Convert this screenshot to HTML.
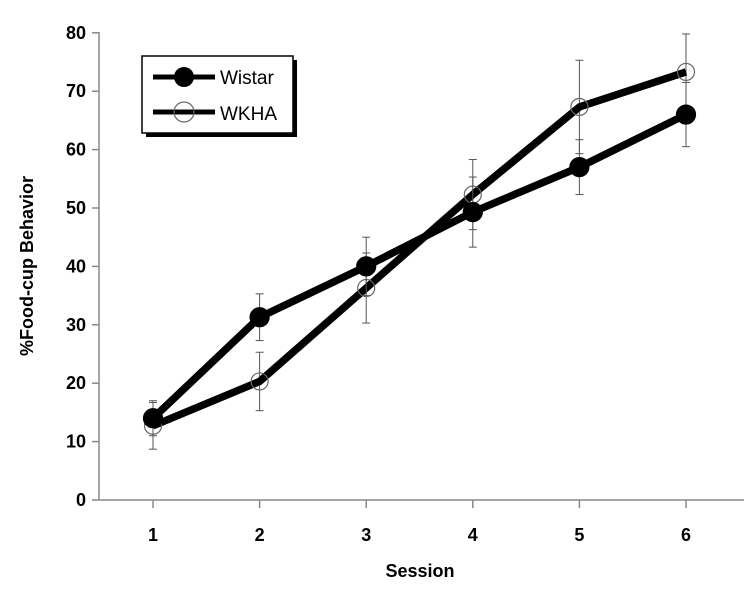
<!DOCTYPE html>
<html><head><meta charset="utf-8"><style>
body{margin:0;background:#fff;}
svg{display:block;font-family:"Liberation Sans",Arial,sans-serif;}
</style></head><body>
<svg id="chart" width="752" height="590" viewBox="0 0 752 590"></svg>
<script>
const sessions=[1,2,3,4,5,6];
const wistar=[14,31.3,40,49.3,57,66];
const wistarErr=[3,4,5,6,4.7,5.5];
const wkha=[12.7,20.3,36.3,52.3,67.3,73.3];
const wkhaErr=[4,5,6,6,8,6.5];
const yTicks=[0,10,20,30,40,50,60,70,80];
const svg=document.getElementById('chart');
const NS='http://www.w3.org/2000/svg';
const X=s=>153+(s-1)*106.6;
const Y=v=>500-v*5.84;
function el(tag,attrs,parent){const e=document.createElementNS(NS,tag);for(const k in attrs)e.setAttribute(k,attrs[k]);(parent||svg).appendChild(e);return e;}
let a=el('line',{x1:99,y1:500,x2:744,y2:500,stroke:'#888','stroke-width':1.5});


a=el('line',{x1:99,y1:32,x2:99,y2:500,stroke:'#888','stroke-width':1.5});


yTicks.forEach(v=>{
 el('line',{x1:92,y1:Y(v),x2:99,y2:Y(v),stroke:'#888','stroke-width':1.5});
 const t=el('text',{x:86,y:Y(v)+6,'text-anchor':'end','font-size':18,'font-weight':'bold'});
 t.textContent=v;
 
 
});
sessions.forEach(s=>{
 el('line',{x1:X(s),y1:500,x2:X(s),y2:508,stroke:'#888','stroke-width':1.5});
 const t=el('text',{x:X(s),y:541,'text-anchor':'middle','font-size':18,'font-weight':'bold'});
 t.textContent=s;
 
 
});
let t=el('text',{x:420,y:577,'text-anchor':'middle','font-size':18,'font-weight':'bold'});
t.textContent='Session';


t=el('text',{x:0,y:0,transform:'translate(33,266) rotate(-90)','text-anchor':'middle','font-size':18,'font-weight':'bold'});
t.textContent='%Food-cup Behavior';


function series(vals,errs,filled,name){
 const g=el('g',{});
 
 
 vals.forEach((v,i)=>{const x=X(sessions[i]);
  el('line',{x1:x,y1:Y(v-errs[i]),x2:x,y2:Y(v+errs[i]),stroke:'#555','stroke-width':1},g);
  el('line',{x1:x-4,y1:Y(v-errs[i]),x2:x+4,y2:Y(v-errs[i]),stroke:'#555','stroke-width':1},g);
  el('line',{x1:x-4,y1:Y(v+errs[i]),x2:x+4,y2:Y(v+errs[i]),stroke:'#555','stroke-width':1},g);
 });
 el('polyline',{points:vals.map((v,i)=>X(sessions[i])+','+Y(v)).join(' '),fill:'none',stroke:'#000','stroke-width':7.5,'stroke-linejoin':'round'},g);
 vals.forEach((v,i)=>{
  const c=el('circle',{cx:X(sessions[i]),cy:Y(v),r:filled?9.5:8.5,fill:filled?'#000':'none',stroke:filled?'#000':'#666','stroke-width':1.2},g);
  
  
 });
}
series(wkha,wkhaErr,false,'wkha');
series(wistar,wistarErr,true,'wistar');
const lg=el('g',{});


el('rect',{x:146,y:60,width:151,height:77,fill:'#000'},lg);
el('rect',{x:142,y:56,width:151,height:77,fill:'#fff',stroke:'#000','stroke-width':1.5},lg);
el('line',{x1:153,y1:77,x2:215,y2:77,stroke:'#000','stroke-width':5},lg);
el('circle',{cx:184,cy:77,r:10,fill:'#000'},lg);
el('line',{x1:153,y1:112,x2:215,y2:112,stroke:'#000','stroke-width':5},lg);
el('circle',{cx:184,cy:112,r:10,fill:'none',stroke:'#666','stroke-width':1.2},lg);
t=el('text',{x:220,y:84,'font-size':19},lg);t.textContent='Wistar';


t=el('text',{x:220,y:120,'font-size':19},lg);t.textContent='WKHA';


</script>
</body></html>
